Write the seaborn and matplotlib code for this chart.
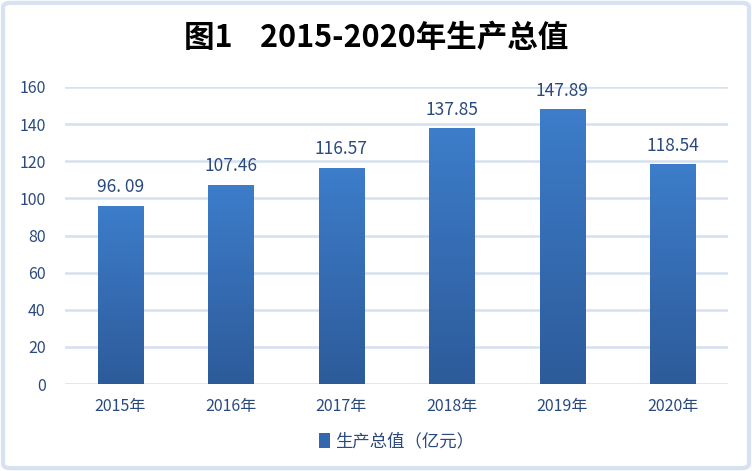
import numpy as np
import pandas as pd
import matplotlib
matplotlib.use("Agg")
import matplotlib.pyplot as plt
import seaborn as sns
from matplotlib.colors import LinearSegmentedColormap
from matplotlib.patches import FancyBboxPatch

# data
years = ["2015年", "2016年", "2017年", "2018年", "2019年", "2020年"]
values = [96.09, 107.46, 116.57, 137.85, 147.89, 118.54]
value_labels = ["96. 09", "107.46", "116.57", "137.85", "147.89", "118.54"]
series_name = "生产总值（亿元）"
title = "图1    2015-2020年生产总值"

sns.set_theme(style="white")
plt.rcParams["font.family"] = ["Noto Sans CJK SC", "DejaVu Sans"]

text_color = "#2A4A7F"
grid_color = "#D5E0F0"

df = pd.DataFrame({"year": years, "value": values})

fig = plt.figure(figsize=(7.52, 4.71), dpi=100)
ax = fig.add_axes([0.0864, 0.1847, 0.8816, 0.6306])

sns.barplot(data=df, x="year", y="value", color="#3A78C4", width=0.41,
            ax=ax, label=series_name)

ax.set_ylim(0, 160)
ax.set_yticks(range(0, 161, 20))
ax.set_xlabel("")
ax.set_ylabel("")
ax.yaxis.grid(True, color=grid_color, linewidth=1.8)
ax.set_axisbelow(True)
for s in ax.spines.values():
    s.set_visible(False)
ax.tick_params(axis="both", length=0, colors=text_color, labelsize=11.5)
ax.tick_params(axis="x", pad=10)
ax.tick_params(axis="y", pad=14)

# gradient fill for each bar
cmap = LinearSegmentedColormap.from_list("bar", ["#2D5B9A", "#3D7DCA"])
grad = np.linspace(0, 1, 256).reshape(-1, 1)
for patch, lab in zip(ax.patches, value_labels):
    x0, y0 = patch.get_x(), patch.get_y()
    w, h = patch.get_width(), patch.get_height()
    patch.set_facecolor("none")
    patch.set_edgecolor("none")
    im = ax.imshow(grad, cmap=cmap, origin="lower", aspect="auto",
                   extent=[x0, x0 + w, y0, y0 + h], zorder=2)
    im.set_clip_path(patch)
    ax.text(x0 + w / 2, y0 + h + 5, lab, ha="center", va="bottom",
            fontsize=12.5, color=text_color)
ax.set_xlim(-0.5, len(years) - 0.5)
ax.set_ylim(0, 160)

leg = ax.legend(loc="upper center", bbox_to_anchor=(0.5, -0.11), frameon=False,
                fontsize=12.5, handlelength=0.6, handleheight=0.9, handletextpad=0.3)
for t in leg.get_texts():
    t.set_color(text_color)
for h in leg.legend_handles:
    h.set_facecolor("#3468AE")

fig.text(0.5, 0.92, title, ha="center", va="center", fontsize=22,
         fontweight="bold", color="black")

# figure border
border = FancyBboxPatch((0.004, 0.006), 0.992, 0.988, boxstyle="round,pad=0,rounding_size=0.01",
                        transform=fig.transFigure, fill=False, edgecolor="#D6E1F1", linewidth=3)
fig.patches.append(border)

fig.savefig("out.png", dpi=100)
